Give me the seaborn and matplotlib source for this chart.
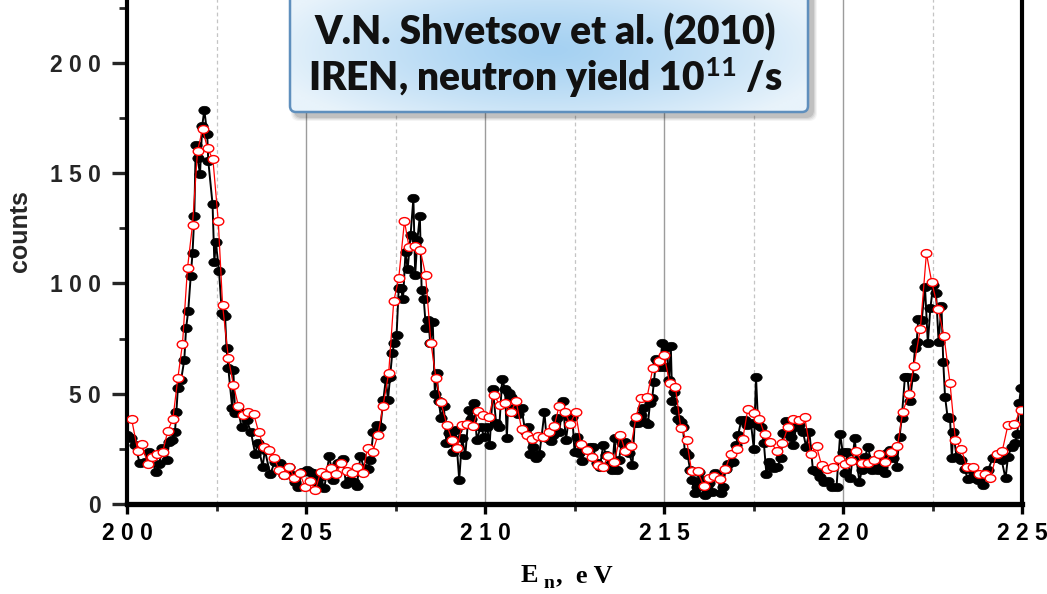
import numpy as np
import pandas as pd
import matplotlib
matplotlib.use("Agg")
import matplotlib.pyplot as plt
import seaborn as sns
from matplotlib.path import Path
from matplotlib.patches import FancyBboxPatch
from matplotlib.ticker import MultipleLocator
from matplotlib.font_manager import FontProperties

# ---------------- data ----------------
black_x = [
    200.00, 200.11, 200.22, 200.36, 200.50, 200.61, 200.81, 200.90, 200.97, 201.11,
    201.18, 201.25, 201.34, 201.38, 201.42, 201.51, 201.60, 201.65, 201.71, 201.78,
    201.83, 201.88, 201.92, 201.97, 202.04, 202.10, 202.16, 202.24, 202.27, 202.39,
    202.44, 202.48, 202.57, 202.65, 202.74, 202.78, 202.83, 202.94, 202.97, 203.02,
    203.11, 203.20, 203.34, 203.46, 203.58, 203.65, 203.79, 203.85, 204.00, 204.13,
    204.27, 204.39, 204.53, 204.60, 204.69, 204.78, 204.88, 205.02, 205.11, 205.20,
    205.30, 205.39, 205.51, 205.65, 205.76, 205.90, 206.02, 206.12, 206.24, 206.33,
    206.42, 206.52, 206.62, 206.72, 206.80, 206.88, 206.98, 207.08, 207.16, 207.23,
    207.29, 207.35, 207.41, 207.47, 207.53, 207.59, 207.65, 207.71, 207.78, 207.84,
    207.92, 208.00, 208.05, 208.11, 208.18, 208.23, 208.29, 208.35, 208.42, 208.47,
    208.54, 208.60, 208.65, 208.71, 208.77, 208.85, 208.92, 209.00, 209.10, 209.18,
    209.28, 209.36, 209.45, 209.55, 209.62, 209.70, 209.77, 209.88, 209.98, 210.06,
    210.13, 210.22, 210.31, 210.40, 210.48, 210.56, 210.61, 210.66, 210.74, 210.82,
    210.92, 211.02, 211.12, 211.20, 211.26, 211.34, 211.42, 211.52, 211.58, 211.66,
    211.72, 211.83, 211.91, 212.02, 212.08, 212.17, 212.26, 212.35, 212.44, 212.50,
    212.57, 212.63, 212.70, 212.80, 212.92, 213.02, 213.12, 213.21, 213.30, 213.38,
    213.47, 213.55, 213.62, 213.68, 213.74, 213.82, 213.91, 214.03, 214.12, 214.18,
    214.27, 214.35, 214.42, 214.48, 214.55, 214.61, 214.67, 214.72, 214.78, 214.84,
    214.89, 214.95, 215.02, 215.08, 215.14, 215.19, 215.23, 215.27, 215.33, 215.40,
    215.48, 215.53, 215.58, 215.66, 215.73, 215.78, 215.86, 215.91, 215.98, 216.05,
    216.14, 216.21, 216.27, 216.33, 216.42, 216.51, 216.58, 216.65, 216.72, 216.79,
    216.93, 217.01, 217.07, 217.16, 217.25, 217.33, 217.43, 217.51, 217.57, 217.63,
    217.71, 217.79, 217.86, 217.92, 218.00, 218.06, 218.16, 218.26, 218.33, 218.41,
    218.48, 218.54, 218.61, 218.69, 218.78, 218.88, 218.97, 219.06, 219.16, 219.26,
    219.36, 219.48, 219.58, 219.68, 219.82, 219.92, 219.99, 220.05, 220.12, 220.20,
    220.33, 220.38, 220.46, 220.52, 220.61, 220.71, 220.80, 220.89, 220.98, 221.03,
    221.08, 221.16, 221.22, 221.31, 221.41, 221.50, 221.58, 221.64, 221.73, 221.80,
    221.87, 221.95, 222.01, 222.06, 222.10, 222.20, 222.29, 222.37, 222.44, 222.52,
    222.60, 222.67, 222.75, 222.80, 222.85, 222.92, 222.99, 223.04, 223.08, 223.17,
    223.31, 223.40, 223.49, 223.59, 223.65, 223.77, 223.91, 224.05, 224.18, 224.29,
    224.43, 224.54, 224.61, 224.71, 224.80, 224.87, 224.92, 224.97,
]
black_y = [
    31.3, 29.8, 26.8, 18.4, 19.2, 23.4, 14.6, 18.0, 25.2, 20.0,
    28.3, 29.0, 32.8, 41.9, 52.5, 56.2, 65.3, 79.7, 87.5, 103.4,
    113.7, 130.6, 162.8, 156.8, 149.7, 171.4, 178.7, 167.7, 155.7, 135.9,
    109.6, 118.8, 105.8, 86.5, 85.3, 70.6, 61.5, 43.4, 60.8, 41.1,
    42.6, 34.8, 38.1, 32.8, 22.7, 27.5, 16.9, 24.5, 13.5, 19.2,
    18.4, 13.2, 16.9, 13.2, 10.1, 7.8, 14.6, 15.4, 14.6, 13.9,
    9.5, 12.4, 7.1, 21.8, 10.9, 18.4, 20.4, 9.1, 10.9, 10.1,
    8.2, 21.8, 16.2, 15.7, 20.0, 32.8, 35.8, 35.1, 47.2, 56.7,
    47.2, 57.7, 68.6, 72.9, 76.6, 97.8, 97.8, 92.8, 114.4, 106.4,
    121.9, 138.6, 103.9, 119.7, 130.6, 97.1, 92.8, 79.7, 83.4, 72.9,
    82.7, 49.7, 59.6, 46.7, 38.9, 44.6, 27.8, 32.1, 23.7, 33.6,
    10.9, 29.8, 22.2, 42.6, 38.4, 45.9, 29.0, 35.1, 30.5, 35.1,
    26.8, 52.0, 36.9, 35.1, 56.7, 52.0, 29.8, 50.2, 48.4, 43.4,
    41.0, 43.4, 33.2, 34.8, 22.7, 26.0, 20.7, 22.7, 30.5, 41.6,
    29.8, 28.7, 31.3, 38.9, 32.8, 46.9, 29.0, 39.6, 39.6, 23.7,
    30.5, 23.0, 19.7, 24.8, 26.0, 25.7, 18.4, 16.9, 26.6, 22.2,
    17.7, 15.4, 29.8, 15.4, 20.0, 27.5, 28.3, 23.0, 17.7, 36.9,
    36.6, 40.4, 43.4, 37.3, 36.3, 45.9, 47.9, 55.5, 65.6, 64.5,
    62.3, 72.9, 62.3, 71.4, 56.2, 71.7, 46.7, 50.9, 42.6, 38.4,
    37.3, 35.1, 23.7, 22.2, 15.4, 10.9, 4.9, 7.8, 14.6, 10.9,
    4.1, 6.3, 9.4, 5.6, 13.9, 12.7, 4.9, 7.8, 15.7, 18.1,
    19.2, 26.8, 31.3, 38.1, 38.1, 35.8, 36.6, 24.8, 57.7, 35.8,
    34.8, 27.5, 13.6, 19.2, 17.2, 16.2, 16.6, 20.7, 32.3, 37.6,
    33.6, 30.5, 26.8, 35.1, 35.8, 32.8, 26.0, 32.8, 15.4, 14.6,
    12.4, 10.1, 10.6, 7.8, 7.8, 31.7, 23.7, 13.9, 23.7, 11.6,
    29.8, 20.0, 9.8, 15.4, 21.5, 26.0, 15.4, 18.5, 15.4, 20.0,
    16.9, 13.9, 23.3, 24.5, 20.7, 16.9, 30.5, 38.9, 57.7, 57.7,
    46.9, 57.7, 70.6, 73.6, 83.8, 83.4, 98.5, 72.9, 88.8, 99.3,
    95.5, 73.6, 89.8, 64.5, 48.7, 39.6, 38.9, 20.7, 32.8, 21.5,
    20.0, 15.7, 11.2, 11.6, 14.2, 10.9, 8.6, 15.4, 20.7, 20.7,
    20.0, 11.6, 21.5, 26.0, 27.5, 31.7, 45.7, 52.5,
]

red_x = [
    200.13, 200.30, 200.41, 200.58, 200.71, 200.85, 201.00, 201.14, 201.28, 201.42, 201.55, 201.69, 201.83, 201.97,
    202.11, 202.25, 202.40, 202.55, 202.67, 202.83, 202.97, 203.11, 203.25, 203.39, 203.54, 203.68, 203.82, 203.97,
    204.11, 204.25, 204.39, 204.53, 204.67, 204.82, 204.97, 205.12, 205.26, 205.41, 205.55, 205.70, 205.84, 205.99,
    206.14, 206.28, 206.43, 206.59, 206.72, 206.86, 207.01, 207.15, 207.31, 207.45, 207.59, 207.75, 207.88, 208.04,
    208.19, 208.34, 208.49, 208.63, 208.77, 208.93, 209.08, 209.22, 209.36, 209.50, 209.66, 209.80, 209.95, 210.11,
    210.25, 210.41, 210.56, 210.72, 210.87, 211.02, 211.17, 211.32, 211.47, 211.62, 211.78, 211.93, 212.07,
    212.23, 212.38, 212.53, 212.68, 212.84, 213.00, 213.15, 213.30, 213.44, 213.61, 213.78, 213.92, 214.08,
    214.22, 214.36, 214.53, 214.69, 214.85, 215.00, 215.16, 215.32, 215.47, 215.63, 215.77, 215.94, 216.11,
    216.25, 216.40, 216.56, 216.71, 216.86, 217.03, 217.20, 217.34, 217.50, 217.66, 217.81, 217.97,
    218.15, 218.31, 218.46, 218.61, 218.77, 218.93, 219.10, 219.26, 219.40, 219.56, 219.73, 219.89,
    220.06, 220.21, 220.36, 220.53, 220.70, 220.86, 221.01, 221.18, 221.35, 221.52, 221.67, 221.84,
    221.98, 222.16, 222.33, 222.48, 222.66, 222.82, 222.99, 223.14, 223.31, 223.46, 223.64, 223.80,
    223.96, 224.12, 224.29, 224.45, 224.61, 224.79, 224.96,
]
red_y = [
    38.4, 24.2, 27.4, 18.1, 21.3, 22.8, 23.7, 33.3, 38.4, 57.1, 72.7, 107.0, 126.7, 160.0,
    170.0, 161.3, 156.3, 128.2, 90.1, 66.4, 54.1, 44.6, 40.4, 41.9, 40.8, 32.5, 26.0, 24.3,
    20.7, 15.6, 13.0, 16.9, 11.9, 14.2, 7.8, 10.4, 6.3, 14.6, 13.2, 16.2, 13.8, 18.5,
    15.0, 14.1, 16.6, 14.2, 25.5, 23.6, 31.2, 44.3, 59.4, 91.9, 102.4, 128.2, 116.4, 117.0,
    115.3, 104.0, 73.0, 57.1, 46.3, 36.0, 29.2, 25.2, 35.8, 36.1, 35.2, 42.0, 40.2, 39.6,
    49.4, 44.9, 45.8, 41.6, 46.6, 34.2, 31.3, 29.6, 30.8, 30.4, 32.7, 35.2, 44.4,
    41.6, 36.4, 41.6, 27.1, 24.4, 21.2, 17.8, 16.8, 21.8, 19.0, 31.2, 24.0, 26.3,
    39.6, 48.1, 48.7, 61.8, 64.9, 67.7, 54.7, 52.9, 34.3, 29.2, 15.1, 14.8, 8.2,
    11.6, 12.8, 11.3, 15.7, 22.5, 24.9, 29.5, 42.9, 41.1, 38.7, 31.6, 28.3,
    24.2, 27.5, 34.8, 38.4, 38.1, 39.6, 22.7, 26.2, 17.7, 15.7, 16.6, 20.3,
    18.1, 19.7, 23.9, 18.5, 18.5, 19.8, 22.8, 19.2, 23.4, 26.2, 41.9, 49.7,
    62.6, 79.4, 113.7, 100.5, 88.4, 76.2, 54.7, 29.0, 24.8, 16.6, 16.6, 13.8,
    13.8, 11.8, 22.7, 24.2, 36.0, 36.4, 42.6,
]

x_ticks = [200, 205, 210, 215, 220, 225]
x_tick_labels = ["2 0 0", "2 0 5", "2 1 0", "2 1 5", "2 2 0", "2 2 5"]
y_ticks = [0, 50, 100, 150, 200]
y_tick_labels = ["0", "5 0", "1 0 0", "1 5 0", "2 0 0"]
y_label = "counts"
title_line1 = "V.N. Shvetsov et al. (2010)"
title_line2 = "IREN, neutron yield 10${}^{11}$ /s"

# ---------------- style ----------------
sns.set_style("white")
plt.rcParams["font.family"] = ["Liberation Sans", "DejaVu Sans"]
plt.rcParams["mathtext.fontset"] = "custom"
plt.rcParams["mathtext.rm"] = "Lato:bold"
plt.rcParams["mathtext.it"] = "Lato:bold"
plt.rcParams["mathtext.bf"] = "Lato:bold"

W, H = 1047, 594
fig = plt.figure(figsize=(W / 100, H / 100), dpi=100)
fig.patch.set_facecolor("white")

ymax = 230
px_per_unit = 441.0 / 200.0
ax_bottom_px = 504
ax_top_px = ax_bottom_px - ymax * px_per_unit
ax = fig.add_axes([127 / W, (H - ax_bottom_px) / H, (1022 - 127) / W,
                   (ax_bottom_px - ax_top_px) / H])

# elliptical marker (the reference's dots are slightly wide)
circ = Path.unit_circle()
ell = Path(circ.vertices * np.array([1.0, 0.74]), circ.codes)

df_black = pd.DataFrame({"E": black_x, "counts": black_y})
df_red = pd.DataFrame({"E": red_x, "counts": red_y})

sns.lineplot(data=df_black, x="E", y="counts", ax=ax, estimator=None, sort=False,
             color="black", lw=1.4, marker=ell, markersize=8.2,
             markerfacecolor="black", markeredgecolor="black", markeredgewidth=0.5,
             zorder=3)
sns.lineplot(data=df_red, x="E", y="counts", ax=ax, estimator=None, sort=False,
             color="red", lw=0.9, marker=ell, markersize=7.6,
             markerfacecolor="white", markeredgecolor="red", markeredgewidth=1.0,
             zorder=4)

ax.set_xlim(200, 225)
ax.set_ylim(0, ymax)
ax.set_xlabel("")
ax.set_ylabel("")

ax.set_xticks(x_ticks)
ax.set_xticklabels(x_tick_labels)
ax.xaxis.set_minor_locator(MultipleLocator(2.5))
ax.set_yticks(y_ticks)
ax.set_yticklabels(y_tick_labels)
ax.yaxis.set_minor_locator(MultipleLocator(25))

tick_fp = FontProperties(family="Liberation Sans", weight="bold", size=16.5)
for lab in ax.get_xticklabels() + ax.get_yticklabels():
    lab.set_fontproperties(tick_fp)

ax.tick_params(axis="x", which="major", direction="out", length=7, width=2.4,
               pad=6, colors="black", bottom=True)
ax.tick_params(axis="x", which="minor", direction="out", length=5, width=2.0,
               bottom=True)
ax.tick_params(axis="y", which="major", direction="out", length=11, width=2.4,
               pad=8, left=True)
ax.tick_params(axis="y", which="minor", direction="out", length=6, width=2.0,
               left=True)

ax.grid(False)
ax.grid(axis="x", which="major", color="#9c9c9c", lw=1.0, ls="-")
ax.grid(axis="x", which="minor", color="#c4c4c4", lw=0.9, ls=(0, (3, 2.5)))
ax.set_axisbelow(True)

for side in ["left", "right", "bottom", "top"]:
    ax.spines[side].set_visible(True)
    ax.spines[side].set_color("black")
ax.spines["left"].set_linewidth(3.0)
ax.spines["right"].set_linewidth(3.0)
ax.spines["bottom"].set_linewidth(3.8)
ax.spines["top"].set_linewidth(2.0)

# y label
fig.text(20 / W, 1 - 231 / H, y_label, rotation=90, ha="center", va="center",
         fontsize=18, fontweight="bold", family="Liberation Sans")

# ---------------- overlay: x label and title box ----------------
ov = fig.add_axes([0, 0, 1, 1], zorder=10)
ov.set_xlim(0, W)
ov.set_ylim(H, 0)
ov.axis("off")
ov.patch.set_alpha(0)

serif = dict(family="Liberation Serif", weight="bold", color="black")
ov.text(521, 582, "E", ha="left", va="baseline", fontsize=19, **serif)
ov.text(543, 588, "n", ha="left", va="baseline", fontsize=14, **serif)
ov.text(556, 582, ",  e V", ha="left", va="baseline", fontsize=19, **serif)

# title box with shadow and gradient
bx, by, bw, bh = 290, -12, 518, 124
for i, a in enumerate([0.05, 0.07, 0.09, 0.12]):
    grow = 4 - i
    sh = FancyBboxPatch((bx + 5 - grow, by + 5 - grow), bw + 2 * grow, bh + 2 * grow,
                        boxstyle="round,pad=0,rounding_size=8",
                        fc="#303030", ec="none", alpha=a, zorder=1)
    ov.add_patch(sh)

box = FancyBboxPatch((bx, by), bw, bh, boxstyle="round,pad=0,rounding_size=6",
                     fc="none", ec="#5f8fbd", lw=1.8, zorder=3)
ov.add_patch(box)
gx = np.linspace(0, 1, 260)
gy = np.linspace(0, 1, 70)
GX, GY = np.meshgrid(gx, gy)
d = np.sqrt(((GX - 0.50) / 0.55) ** 2 + ((GY - 0.50) / 0.75) ** 2)
d = np.clip(d, 0, 1) ** 1.3
c_center = np.array([165, 209, 242]) / 255.0
c_edge = np.array([232, 243, 251]) / 255.0
img = c_center[None, None, :] * (1 - d[..., None]) + c_edge[None, None, :] * d[..., None]
im = ov.imshow(img, extent=(bx, bx + bw, by + bh, by), aspect="auto", zorder=2,
               interpolation="bilinear")
clip = FancyBboxPatch((bx, by), bw, bh, boxstyle="round,pad=0,rounding_size=6",
                      fc="none", ec="none", transform=ov.transData)
ov.add_patch(clip)
im.set_clip_path(clip)
ov.set_xlim(0, W)
ov.set_ylim(H, 0)

title_font = dict(family="Lato", weight="heavy", color="#111111", fontsize=28)
ov.text(545, 32, title_line1, ha="center", va="center", zorder=5, **title_font)
ov.text(545, 78, title_line2, ha="center", va="center", zorder=5, **title_font)

fig.savefig("out.png", dpi=100, facecolor="white")
